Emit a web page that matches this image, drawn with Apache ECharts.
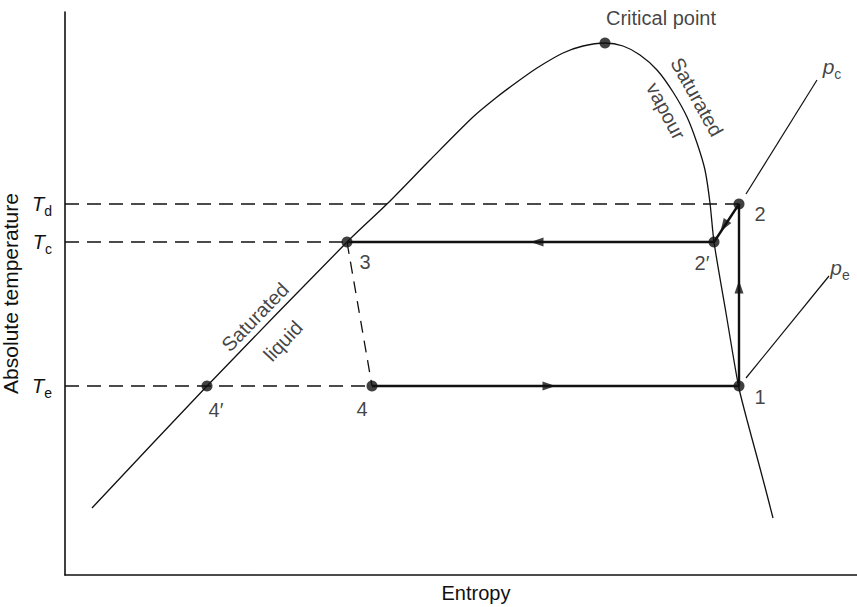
<!DOCTYPE html>
<html>
<head>
<meta charset="utf-8">
<script src="https://cdn.jsdelivr.net/npm/echarts@6/dist/echarts.min.js"></script>
<style>
  html, body { margin: 0; padding: 0; background: #fff; }
  #main { width: 857px; height: 607px; }
</style>
</head>
<body>
<div id="main"></div>
<script>
// saturation dome: liquid line up to the critical point, then vapour line down
const domeS = [27, 142, 282, 323, 365, 408, 432, 452, 472, 498, 518, 540, 558, 575, 592, 608, 622, 632, 640, 645, 649, 661, 673.5, 682, 692, 700, 708];
const domeT = [67, 189, 333, 372, 415, 458, 478, 493, 507, 522, 529, 532, 529, 520, 505, 483, 458, 432, 405, 372, 333, 262, 189, 155, 118, 88, 57];

// cycle state points
const stateNames = ['1', '2', '2′', '3', '4', '4′', 'Critical point'];
const stateS = [674, 674, 649, 282, 307, 142, 540];
const stateT = [189, 371, 333, 333, 189, 189, 532];

// temperature levels (Te, Tc, Td) and where their dashed guide stops
const levelSub = ['e', 'c', 'd'];
const levelT = [189, 333, 371];
const levelEndS = [307, 282, 674];

// isobar stubs p_c and p_e
const isobarS = [[681, 752], [681, 764]];
const isobarT = [[381, 495], [197, 299]];

// flow arrows along the cycle
const arrowS = [472, 484, 674, 659];
const arrowT = [333, 189, 288, 349];
const arrowRot = [90, -90, 0, 147];

const ink = '#111';
const font = '"Liberation Sans", Arial, sans-serif';

const pt = i => [stateS[i], stateT[i]];
const zip = (a, b) => a.map((v, i) => [v, b[i]]);

const plainLine = (data, width, dash) => ({
    type: 'line',
    data: data,
    symbol: 'none',
    silent: true,
    lineStyle: { color: ink, width: width, type: dash || 'solid' }
});

const series = [];

// dome
series.push(Object.assign(plainLine(zip(domeS, domeT), 1.3), { smooth: 0.25 }));

// dashed temperature guides
levelT.forEach((t, i) => {
    series.push(plainLine([[0, t], [levelEndS[i], t]], 1.3, [14, 8]));
});
// throttling 3 -> 4 (dashed)
series.push(plainLine([pt(3), pt(4)], 1.3, [12, 8]));

// solid process path 4 -> 1 -> 2 -> 2' -> 3
series.push(plainLine([pt(4), pt(0), pt(1), pt(2), pt(3)], 2.4));

// isobars
isobarS.forEach((s, i) => {
    series.push(plainLine(zip(s, isobarT[i]), 1.2));
});

// arrows
series.push({
    type: 'scatter',
    silent: true,
    symbol: 'triangle',
    symbolSize: [9, 13],
    itemStyle: { color: ink },
    data: arrowS.map((s, i) => ({ value: [s, arrowT[i]], symbolRotate: arrowRot[i] }))
});

// state points with their labels
const stateOffsets = [[21, 11], [21, 10], [-12, 21], [18, 20], [-10, 23], [9, 24], [56, -25]];
series.push({
    type: 'scatter',
    silent: true,
    symbolSize: 11,
    itemStyle: { color: ink },
    label: {
        show: true,
        position: 'inside',
        color: ink,
        fontFamily: font,
        fontSize: 20,
        formatter: p => stateNames[p.dataIndex]
    },
    data: stateS.map((s, i) => ({ value: [s, stateT[i]], label: { offset: stateOffsets[i] } }))
});

// curve names and isobar labels
const textNames = ['Saturated', 'vapour', 'Saturated', 'liquid', '{i|p}{s|c}', '{i|p}{s|e}'];
const textS = [632, 601, 190, 218, 767, 775];
const textT = [478, 464, 258, 234, 508, 307];
const textRot = [-61, -62, 46, 47, 0, 0];
series.push({
    type: 'scatter',
    silent: true,
    symbolSize: 0,
    label: {
        show: true,
        position: 'inside',
        color: ink,
        fontFamily: font,
        fontSize: 20,
        formatter: p => textNames[p.dataIndex],
        rich: {
            i: { fontFamily: font, fontSize: 21, fontStyle: 'italic', color: ink, lineHeight: 22, verticalAlign: 'top' },
            s: { fontFamily: font, fontSize: 14, color: ink, lineHeight: 14, padding: [11, 0, 0, 0], verticalAlign: 'top' }
        }
    },
    data: textS.map((s, i) => ({ value: [s, textT[i]], label: { rotate: textRot[i] } }))
});

const chart = echarts.init(document.getElementById('main'), null, { renderer: 'svg' });
chart.setOption({
    animation: false,
    backgroundColor: '#fff',
    grid: { left: 65, right: 0, top: 12, bottom: 32, containLabel: false, outerBoundsMode: 'none' },
    xAxis: {
        type: 'value',
        min: 0,
        max: 792,
        name: 'Entropy',
        nameLocation: 'middle',
        nameGap: 8,
        nameTextStyle: { color: ink, fontFamily: font, fontSize: 20, padding: [0, 0, 0, 30] },
        axisLine: { lineStyle: { color: ink, width: 1.6 } },
        axisTick: { show: false },
        axisLabel: { show: false },
        splitLine: { show: false }
    },
    yAxis: {
        type: 'value',
        min: 0,
        max: 563,
        name: 'Absolute temperature',
        nameLocation: 'middle',
        nameGap: 38,
        nameTextStyle: { color: ink, fontFamily: font, fontSize: 21 },
        axisLine: { show: true, lineStyle: { color: ink, width: 1.6 } },
        axisTick: { show: false },
        splitLine: { show: false },
        axisLabel: {
            show: true,
            margin: 13,
            customValues: levelT,
            formatter: v => '{t|T}{s|' + levelSub[levelT.indexOf(v)] + '}',
            rich: {
                t: { fontFamily: font, fontSize: 20, fontStyle: 'italic', color: ink, lineHeight: 21, verticalAlign: 'top' },
                s: { fontFamily: font, fontSize: 14, color: ink, lineHeight: 14, padding: [10, 0, 0, 0], verticalAlign: 'top' }
            }
        }
    },
    series: series
});
</script>
</body>
</html>
